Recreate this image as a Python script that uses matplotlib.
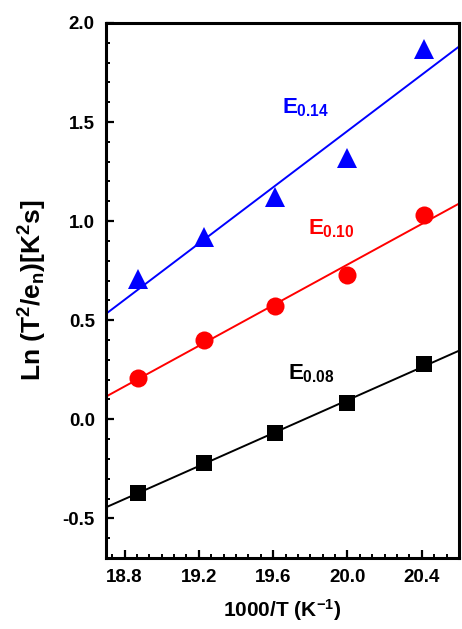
import numpy as np
import matplotlib
matplotlib.use("Agg")
import matplotlib.pyplot as plt
from matplotlib.ticker import MultipleLocator, AutoMinorLocator

# Dados (1000/T e Ln(T^2/e_n))
inv_t = [18.87, 19.23, 19.61, 20.00, 20.41]
ln_e008 = [-0.37, -0.22, -0.07, 0.08, 0.28]
ln_e010 = [0.21, 0.40, 0.57, 0.73, 1.03]
ln_e014 = [0.71, 0.92, 1.12, 1.32, 1.87]

plt.rcParams['font.family'] = ['Liberation Sans', 'DejaVu Sans']
plt.rcParams['font.weight'] = 'bold'
plt.rcParams['axes.labelweight'] = 'bold'
plt.rcParams['mathtext.fontset'] = 'custom'
plt.rcParams['mathtext.rm'] = 'Liberation Sans:bold'
plt.rcParams['mathtext.it'] = 'Liberation Sans:bold'
plt.rcParams['mathtext.bf'] = 'Liberation Sans:bold'
plt.rcParams['axes.unicode_minus'] = False

fig = plt.figure(figsize=(4.62, 6.29), dpi=100)
ax = fig.add_axes([0.2294, 0.1129, 0.764, 0.8506])

xlim = (18.7, 20.6)
x_fit = np.array(xlim)

series = [
    (ln_e008, 'black', 's', 11.5),
    (ln_e010, 'red', 'o', 13),
    (ln_e014, 'blue', '^', 15),
]
for valores, cor, marcador, tam in series:
    a, b = np.polyfit(inv_t, valores, 1)
    ax.plot(x_fit, a * x_fit + b, color=cor, lw=1.4, zorder=2)
    ax.plot(inv_t, valores, linestyle='none', marker=marcador, ms=tam,
            color=cor, markeredgewidth=0, zorder=3)

# Rótulos das curvas
ax.text(19.65, 1.57, r'$E_{0.14}$', color='blue', fontsize=16, va='center')
ax.text(19.79, 0.96, r'$E_{0.10}$', color='red', fontsize=16, va='center')
ax.text(19.68, 0.23, r'$E_{0.08}$', color='black', fontsize=16, va='center')

ax.set_xlim(*xlim)
ax.set_ylim(-0.7, 2.0)
ax.xaxis.set_major_locator(MultipleLocator(0.4))
ax.xaxis.set_minor_locator(AutoMinorLocator(6))
ax.yaxis.set_major_locator(MultipleLocator(0.5))
ax.yaxis.set_minor_locator(AutoMinorLocator(5))
ax.xaxis.set_major_formatter(plt.FuncFormatter(lambda v, p: f'{v:.1f}'))
ax.yaxis.set_major_formatter(plt.FuncFormatter(lambda v, p: f'{v:.1f}'))

for s in ax.spines.values():
    s.set_linewidth(2.2)
ax.tick_params(which='major', direction='in', length=6, width=1.6,
               labelsize=13.5, pad=8)
ax.tick_params(which='minor', direction='in', length=3, width=1.4)
ax.tick_params(axis='x', which='major', pad=8)

ax.set_xlabel(r'1000/T (K$^{-1}$)', fontsize=15, fontweight='bold',
              labelpad=8)
ax.set_ylabel(r'Ln (T$^2$/e$_n$)[K$^2$s]', fontsize=19, fontweight='bold',
              labelpad=10)

fig.savefig('out.png', dpi=100)
